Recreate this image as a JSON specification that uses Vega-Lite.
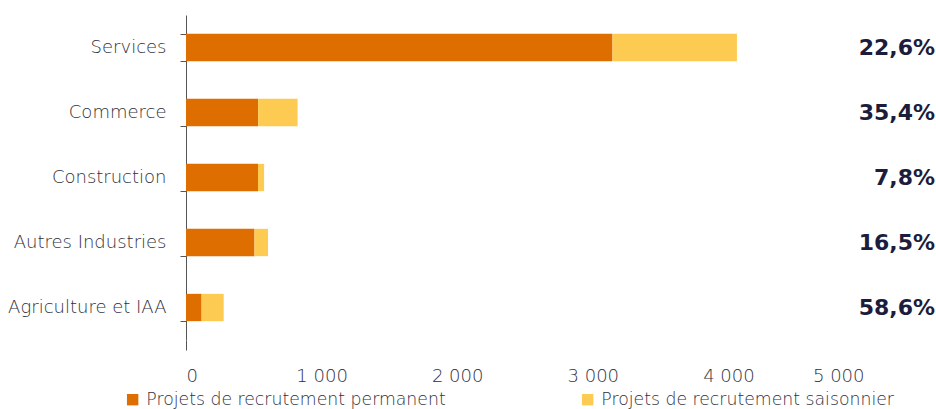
{
  "$schema": "https://vega.github.io/schema/vega-lite/v6.json",
  "width": 678,
  "height": 325,
  "autosize": {"type": "none"},
  "padding": {"left": 186, "top": 15, "right": 72, "bottom": 69},
  "background": "white",
  "config": {"view": {"stroke": null}, "font": "DejaVu Sans"},
  "datasets": {
    "bars": [
      {"secteur": "Services", "type": "Projets de recrutement permanent", "valeur": 3145, "ordre": 1},
      {"secteur": "Services", "type": "Projets de recrutement saisonnier", "valeur": 918, "ordre": 2},
      {"secteur": "Commerce", "type": "Projets de recrutement permanent", "valeur": 532, "ordre": 1},
      {"secteur": "Commerce", "type": "Projets de recrutement saisonnier", "valeur": 291, "ordre": 2},
      {"secteur": "Construction", "type": "Projets de recrutement permanent", "valeur": 531, "ordre": 1},
      {"secteur": "Construction", "type": "Projets de recrutement saisonnier", "valeur": 45, "ordre": 2},
      {"secteur": "Autres Industries", "type": "Projets de recrutement permanent", "valeur": 505, "ordre": 1},
      {"secteur": "Autres Industries", "type": "Projets de recrutement saisonnier", "valeur": 100, "ordre": 2},
      {"secteur": "Agriculture et IAA", "type": "Projets de recrutement permanent", "valeur": 115, "ordre": 1},
      {"secteur": "Agriculture et IAA", "type": "Projets de recrutement saisonnier", "valeur": 163, "ordre": 2}
    ],
    "pct": [
      {"secteur": "Services", "part": "22,6%"},
      {"secteur": "Commerce", "part": "35,4%"},
      {"secteur": "Construction", "part": "7,8%"},
      {"secteur": "Autres Industries", "part": "16,5%"},
      {"secteur": "Agriculture et IAA", "part": "58,6%"}
    ]
  },
  "layer": [
    {
      "data": {"name": "bars"},
      "mark": {"type": "bar"},
      "encoding": {
        "y": {
          "field": "secteur",
          "type": "nominal",
          "sort": ["Services", "Commerce", "Construction", "Autres Industries", "Agriculture et IAA"],
          "scale": {"paddingInner": 0.58, "paddingOuter": 0.29},
          "axis": {
            "title": null,
            "domainColor": "#555",
            "tickColor": "#555",
            "tickBand": "extent",
            "tickSize": 6,
            "labelPadding": 14,
            "labelFontSize": 18,
            "labelFontWeight": 200,
            "labelColor": "#30303c"
          }
        },
        "x": {
          "field": "valeur",
          "type": "quantitative",
          "stack": "zero",
          "scale": {"domain": [0, 5000], "nice": false},
          "axis": {
            "title": null,
            "domain": false,
            "grid": false,
            "values": [0, 1000, 2000, 3000, 4000, 5000],
            "labelExpr": "replace(format(datum.value, ','), ',', ' ')",
            "tickSize": 10,
            "tickColor": {"condition": {"test": "datum.value == 0", "value": "#555"}, "value": "transparent"},
            "labelPadding": 17,
            "labelFontSize": 18,
            "labelFontWeight": 200,
            "labelColor": "#30303c"
          }
        },
        "color": {
          "field": "type",
          "type": "nominal",
          "scale": {
            "domain": ["Projets de recrutement permanent", "Projets de recrutement saisonnier"],
            "range": ["#DF6E00", "#FECB52"]
          },
          "legend": {
            "orient": "none",
            "legendX": -62,
            "legendY": 376,
            "direction": "horizontal",
            "title": null,
            "symbolType": "square",
            "symbolSize": 130,
            "symbolStrokeWidth": 0,
            "symbolOpacity": 1,
            "labelFontSize": 17.3,
            "labelFontWeight": 200,
            "labelOffset": 5,
            "labelColor": "#30303c",
            "columnPadding": 133,
            "labelLimit": 400
          }
        },
        "order": {"field": "ordre"}
      }
    },
    {
      "data": {"name": "pct"},
      "mark": {"type": "text", "align": "right", "dx": 71, "font": "DejaVu Sans", "fontWeight": "bold", "fontSize": 22, "color": "#1c1c3c"},
      "encoding": {
        "y": {"field": "secteur", "type": "nominal", "sort": ["Services", "Commerce", "Construction", "Autres Industries", "Agriculture et IAA"]},
        "x": {"datum": 5000},
        "text": {"field": "part"}
      }
    }
  ]
}
